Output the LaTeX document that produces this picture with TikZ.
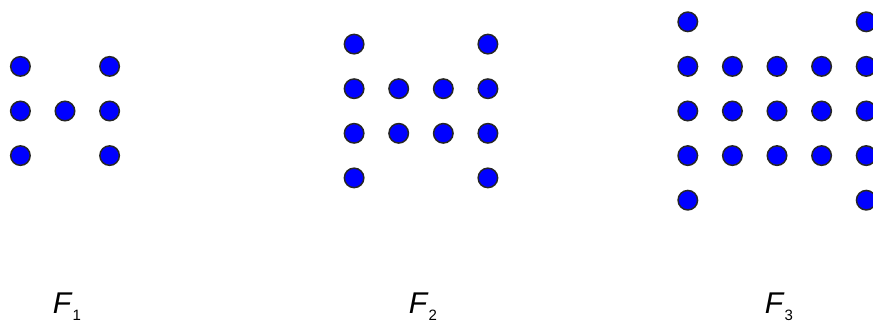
\documentclass[tikz,border=0pt]{standalone}
\usepackage{fontspec}
\setmainfont{Liberation Sans}

\begin{document}
\begin{tikzpicture}[x=1pt, y=1pt,
		dot/.style={circle, fill=blue, draw=black!85, line width=1.5pt, minimum size=19.5pt, inner sep=0pt},
		lbl/.style={anchor=base, inner sep=0pt, font=\fontsize{30}{36}\selectfont}]
		\useasboundingbox (0,0) rectangle (873,322);

		% Figures F_1, F_2, F_3: two outer columns of n+2 dots, n x n dots between them
		\foreach \n/\cx in {1/65, 2/421, 3/777} {
			\pgfmathsetmacro{\m}{\n+1}
			% Outer columns
			\foreach \j in {0,...,\m} {
				\node[dot] (F\n-L\j) at ({\cx-(\n+1)/2*44.6}, {211+((\n+1)/2-\j)*44.6}) {};
				\node[dot] (F\n-R\j) at ({\cx+(\n+1)/2*44.6}, {211+((\n+1)/2-\j)*44.6}) {};
			}
			% Inner block
			\foreach \i in {1,...,\n} {
				\foreach \j in {1,...,\n} {
					\node[dot] (F\n-\i-\j) at ({\cx+(\i-(\n+1)/2)*44.6}, {211+((\n+1)/2-\j)*44.6}) {};
				}
			}
			% Label
			\node[lbl] (label\n) at (\cx+2, 9) {\textit{F}\raisebox{-7pt}{\fontsize{15}{18}\selectfont\n}};
		}
	\end{tikzpicture}
\end{document}
